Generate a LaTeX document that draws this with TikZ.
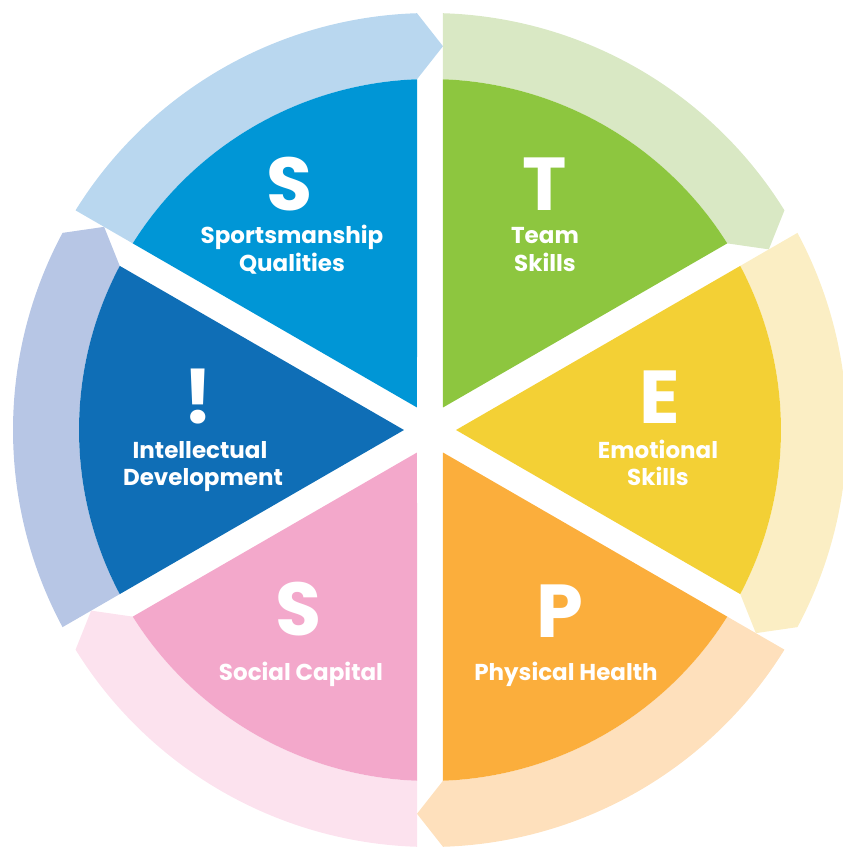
\documentclass[tikz,border=0pt]{standalone}
\usepackage{fontspec}
\setmainfont{Poppins}
\definecolor{cSa}{HTML}{0096D6}
\definecolor{lSa}{HTML}{B9D7EF}
\definecolor{cT}{HTML}{8DC63F}
\definecolor{lT}{HTML}{D9E8C4}
\definecolor{cE}{HTML}{F3D035}
\definecolor{lE}{HTML}{FBEEC4}
\definecolor{cP}{HTML}{FBAE3C}
\definecolor{lP}{HTML}{FEE0BC}
\definecolor{cSb}{HTML}{F3A8CB}
\definecolor{lSb}{HTML}{FCE2EE}
\definecolor{cI}{HTML}{0F6EB6}
\definecolor{lI}{HTML}{B7C6E5}
\def\Ra{351}\def\Rb{417}\def\Rm{384}\def\hw{13}
\newcommand\stepsector[3]{%
  \pgfmathsetmacro\sa{#1}%
  \pgfmathsetmacro\sb{#1-60}%
  \pgfmathsetmacro\aA{#1-asin(\hw/\Ra)}%
  \pgfmathsetmacro\aB{#1-asin(\hw/\Rb)}%
  \pgfmathsetmacro\bA{#1-60+asin(\hw/\Ra)}%
  \pgfmathsetmacro\bB{#1-60+asin(\hw/\Rb)}%
  \pgfmathsetmacro\bM{#1-60-asin(\hw/\Rm)}%
  \pgfmathsetmacro\mid{#1-30}%
  \fill[#3] (\aA:\Ra pt) -- (\aB:\Rb pt)
    arc[start angle=\aB, end angle=\bB, radius=\Rb pt]
    -- (\bM:\Rm pt) -- (\bA:\Ra pt)
    arc[start angle=\bA, end angle=\aA, radius=\Ra pt] -- cycle;
  \fill[#2] (\mid:26pt) -- (\aA:\Ra pt)
    arc[start angle=\aA, end angle=\bA, radius=\Ra pt] -- cycle;
}
\begin{document}
\begin{tikzpicture}[x=1pt,y=1pt,
  big/.style={font=\fontsize{75}{75}\selectfont\bfseries, text=white, anchor=base, inner sep=0pt},
  lbl/.style={font=\fontsize{23}{27}\selectfont\bfseries, text=white, anchor=base, inner sep=0pt,
    text height=16pt, text depth=5pt}]
\useasboundingbox (-430,-417) rectangle (413,430);
\stepsector{150}{cSa}{lSa}
\stepsector{90}{cT}{lT}
\stepsector{30}{cE}{lE}
\stepsector{-30}{cP}{lP}
\stepsector{-90}{cSb}{lSb}
\stepsector{-150}{cI}{lI}
% texts
\node[big] (bigS1) at (-140,220) {S};
\node[lbl] (sq1) at (-138,187) {Sportsmanship};
\node[lbl] (sq2) at (-138,159) {Qualities};
\node[big] (bigT) at (115,220) {T};
\node[lbl] (ts1) at (115,187) {Team};
\node[lbl] (ts2) at (115,159) {Skills};
\node[big] (bigI) at (-232,7) {!};
\node[lbl] (id1) at (-230,-28) {Intellectual};
\node[lbl] (id2) at (-227,-55) {Development};
\node[big] (bigE) at (230,7) {E};
\node[lbl] (es1) at (228,-28) {Emotional};
\node[lbl] (es2) at (228,-55) {Skills};
\node[big] (bigS2) at (-131,-205) {S};
\node[lbl] (sc) at (-129,-250) {Social Capital};
\node[big] (bigP) at (130,-207) {P};
\node[lbl] (ph) at (136,-250) {Physical Health};
\end{tikzpicture}
\end{document}
